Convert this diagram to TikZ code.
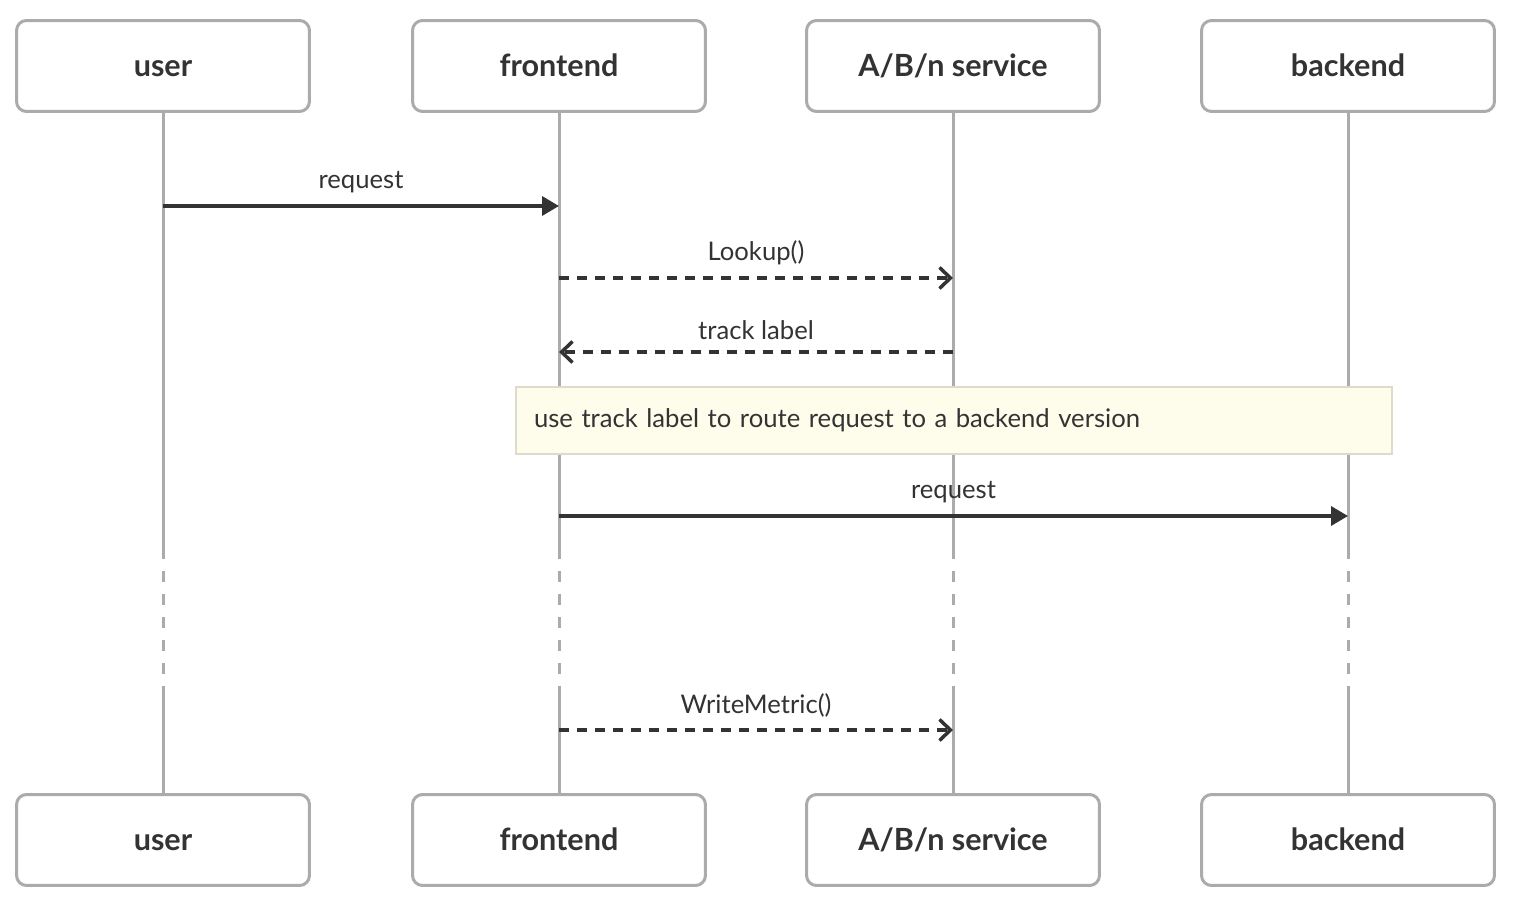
\documentclass[tikz,border=0pt]{standalone}
\usepackage{fontspec}
\setmainfont{Lato}
\usetikzlibrary{arrows.meta}
\definecolor{ink}{HTML}{333333}
\definecolor{lifegray}{HTML}{ABABAB}
\definecolor{notefill}{HTML}{FEFDEB}
\definecolor{noteline}{HTML}{DDDBCB}
\tikzset{
  % --- Tuan tu ----------------------------------------------
  seqpart/.style={draw=lifegray, line width=0.06cm, rounded corners=0.2cm,
    fill=white, minimum width=5.86cm, minimum height=1.82cm, align=center,
    font=\fontsize{17.4}{20}\selectfont\bfseries, text=ink,
    text height=1.25em, text depth=0em},
  seqlife/.style={lifegray, line width=0.06cm},
  seqgap/.style={lifegray, line width=0.06cm, dash pattern=on 0.22cm off 0.24cm},
  seqmsg/.style={-{Triangle[length=0.34cm, width=0.38cm]}, ink,
    line width=0.07cm},
  seqret/.style={-{Straight Barb[length=0.22cm, width=0.42cm]}, ink,
    line width=0.07cm, dash pattern=on 0.2cm off 0.16cm},
  seqlab/.style={font=\fontsize{14.6}{17}\selectfont, text=ink, above=0.1cm},
  seqnote/.style={draw=noteline, line width=0.04cm, fill=notefill,
    anchor=north west, minimum width=17.52cm, minimum height=1.34cm,
    text width=16.8cm, inner xsep=0.36cm, align=left,
    font=\fontsize{14.6}{17}\selectfont, text=ink}
}
\begin{document}
\begin{tikzpicture}[x=0.02cm, y=-0.02cm]

  \useasboundingbox (0,0) rectangle (1514,908);

  % --- Thanh phan, tren va duoi ---
  \node[seqpart] (uT) at (163,66)  {user};
  \node[seqpart] (fT) at (559,66)  {frontend};
  \node[seqpart] (aT) at (953,66)  {A/B/n service};
  \node[seqpart] (bT) at (1348,66) {backend};
  \node[seqpart] (uB) at (163,840)  {user};
  \node[seqpart] (fB) at (559,840)  {frontend};
  \node[seqpart] (aB) at (953,840)  {A/B/n service};
  \node[seqpart] (bB) at (1348,840) {backend};

  % --- Duong doi song, co doan ngat quang ---
  \coordinate (gapTop) at (0,548);
  \coordinate (gapBot) at (0,688);
  \foreach \p in {u, f, a, b} {
    \draw[seqlife] (\p T.south) -- (\p T.south |- gapTop);
    \draw[seqgap]  (\p T.south |- gapTop) -- (\p T.south |- gapBot);
    \draw[seqlife] (\p T.south |- gapBot) -- (\p B.north);
  }

  % --- Thong diep ---
  \coordinate (m1) at (0,206);
  \coordinate (m2) at (0,278);
  \coordinate (m3) at (0,352);
  \coordinate (m4) at (0,516);
  \coordinate (m5) at (0,730);

  \draw[seqmsg] (uT |- m1) -- node[seqlab] {request} (fT |- m1);
  \draw[seqret] (fT |- m2) -- node[seqlab] {Lookup()} (aT |- m2);
  \draw[seqret] (aT |- m3) -- node[seqlab] {track label} (fT |- m3);

  \node[seqnote] (note) at (515,386)
    {use track label to route request to a backend version};

  \draw[seqmsg] (fT |- m4) -- node[seqlab] {request} (bT |- m4);
  \draw[seqret] (fT |- m5) -- node[seqlab] {WriteMetric()} (aT |- m5);

\end{tikzpicture}
\end{document}
